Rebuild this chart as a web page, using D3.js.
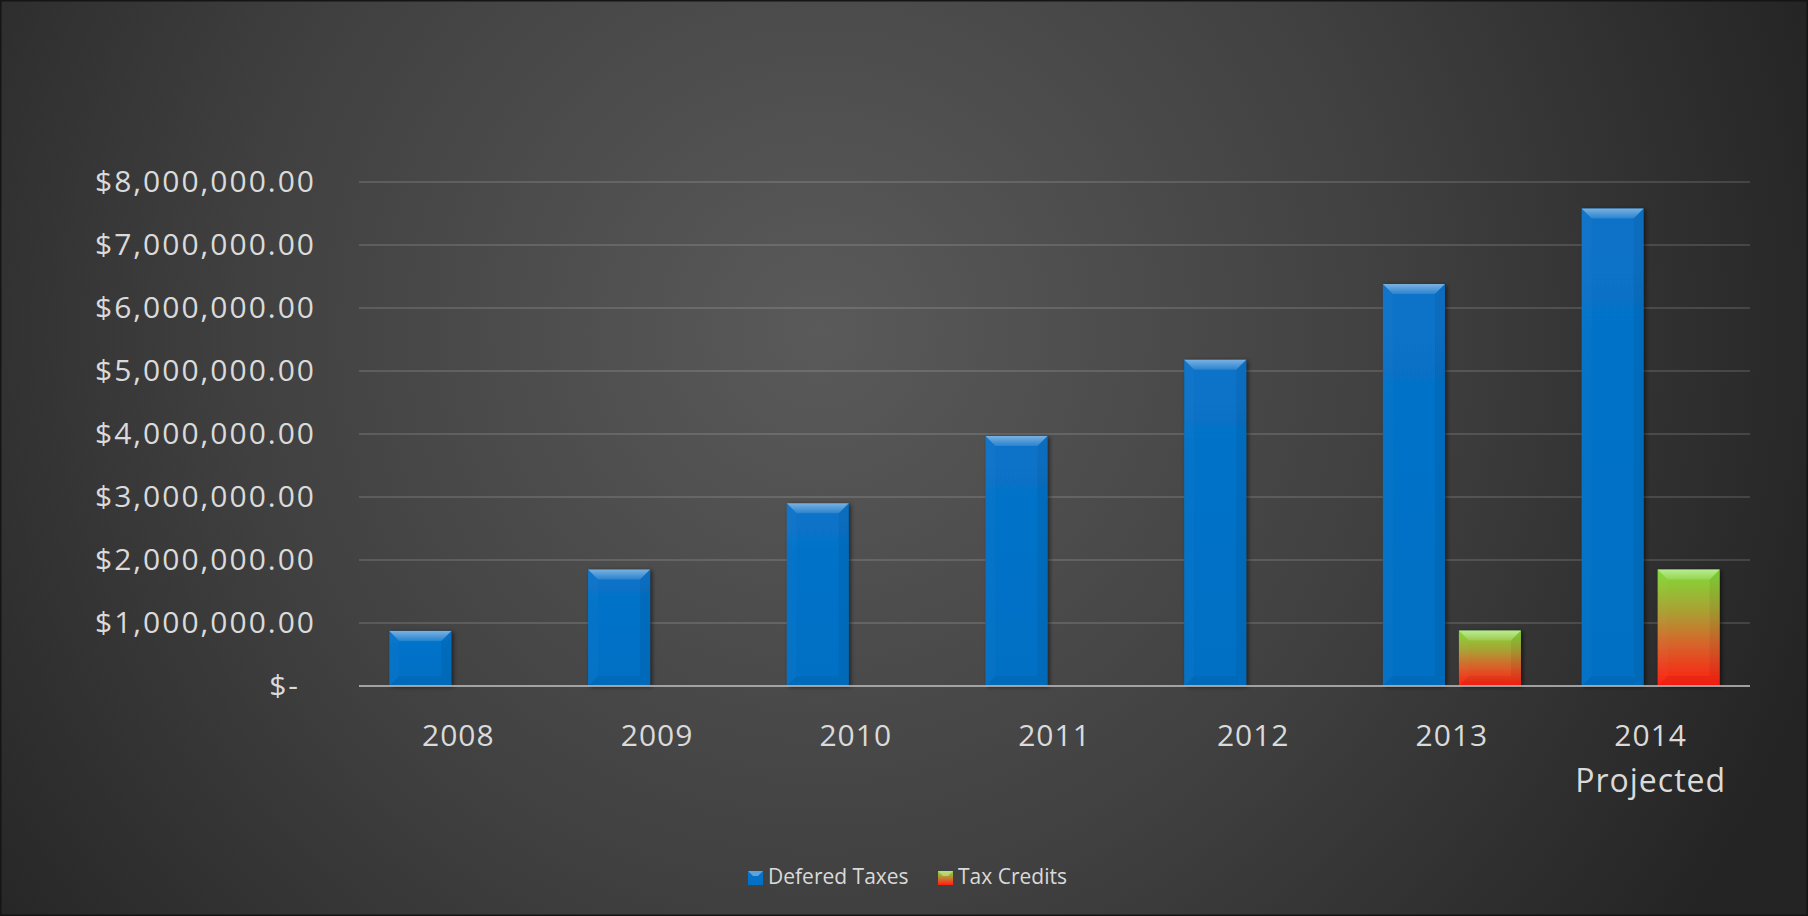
<!DOCTYPE html>
<html>
<head>
  <meta charset="utf-8">
  <title>Defered Taxes / Tax Credits</title>
  <script src="https://d3js.org/d3.v7.min.js"></script>
  <style>
    html, body { margin: 0; padding: 0; background: #2a2a2a; }
    svg { display: block; }
    text { font-family: "Open Sans", "DejaVu Sans", sans-serif; fill: #dadada; }
  </style>
</head>
<body>
  <script>
    // data
    const years = ["2008", "2009", "2010", "2011", "2012", "2013", "2014\nProjected"];
    const seriesNames = ["Defered Taxes", "Tax Credits"];
    const deferedTaxes = [875000, 1850000, 2900000, 3970000, 5180000, 6380000, 7580000];
    const taxCredits = [0, 0, 0, 0, 0, 880000, 1850000];
    const yTicks = [0, 1000000, 2000000, 3000000, 4000000, 5000000, 6000000, 7000000, 8000000];

    const W = 1808, H = 916;
    const margin = {top: 182, right: 58, bottom: 230, left: 359};

    const svg = d3.select("body").append("svg")
        .attr("width", W)
        .attr("height", H);

    const defs = svg.append("defs");

    // background: soft radial glow
    const bg = defs.append("radialGradient").attr("id", "bg")
        .attr("gradientUnits", "userSpaceOnUse")
        .attr("cx", 820).attr("cy", 330).attr("r", 1050);
    bg.append("stop").attr("offset", "0%").attr("stop-color", "#5a5a5a");
    bg.append("stop").attr("offset", "55%").attr("stop-color", "#404040");
    bg.append("stop").attr("offset", "100%").attr("stop-color", "#242424");

    const blue = defs.append("linearGradient").attr("id", "blueFill")
        .attr("x1", 0).attr("y1", 0).attr("x2", 0).attr("y2", 1);
    blue.append("stop").attr("offset", "0%").attr("stop-color", "#0873c9");
    blue.append("stop").attr("offset", "100%").attr("stop-color", "#0070c4");

    const rg = defs.append("linearGradient").attr("id", "creditFill")
        .attr("x1", 0).attr("y1", 0).attr("x2", 0).attr("y2", 1);
    rg.append("stop").attr("offset", "0%").attr("stop-color", "#80dc38");
    rg.append("stop").attr("offset", "35%").attr("stop-color", "#a9a233");
    rg.append("stop").attr("offset", "65%").attr("stop-color", "#d8622a");
    rg.append("stop").attr("offset", "100%").attr("stop-color", "#ff1c10");

    const topShine = defs.append("linearGradient").attr("id", "topShine")
        .attr("x1", 0).attr("y1", 0).attr("x2", 0).attr("y2", 1);
    topShine.append("stop").attr("offset", "0%").attr("stop-color", "#ffffff").attr("stop-opacity", 0.45);
    topShine.append("stop").attr("offset", "100%").attr("stop-color", "#ffffff").attr("stop-opacity", 0.12);

    const shadow = defs.append("filter").attr("id", "shadow")
        .attr("x", "-20%").attr("y", "-10%").attr("width", "150%").attr("height", "130%");
    shadow.append("feDropShadow").attr("dx", 2).attr("dy", 1)
        .attr("stdDeviation", 2).attr("flood-color", "#000").attr("flood-opacity", 0.55);

    svg.append("rect").attr("width", W).attr("height", H).attr("fill", "url(#bg)");
    svg.append("rect").attr("x", 0.5).attr("y", 0.5).attr("width", W - 1).attr("height", H - 1)
        .attr("fill", "none").attr("stroke", "#151515").attr("stroke-width", 2);

    const x0 = d3.scaleBand()
        .domain(years)
        .range([margin.left, W - margin.right]);

    const x1 = d3.scaleBand()
        .domain(seriesNames)
        .range([0, x0.bandwidth()])
        .paddingInner(0.184)
        .paddingOuter(0.399);

    const y = d3.scaleLinear()
        .domain([0, 8000000])
        .range([H - margin.bottom, margin.top]);

    // gridlines
    svg.append("g")
      .selectAll("line")
      .data(yTicks.filter(d => d > 0))
      .join("line")
        .attr("x1", margin.left).attr("x2", W - margin.right)
        .attr("y1", d => y(d)).attr("y2", d => y(d))
        .attr("stroke", "#ffffff").attr("stroke-opacity", 0.13).attr("stroke-width", 2);

    // y axis labels (accounting format)
    const fmt = d3.format(",.2f");
    svg.append("g")
      .selectAll("text")
      .data(yTicks)
      .join("text")
        .attr("x", d => d === 0 ? 300 : 316)
        .attr("y", d => y(d) + 10)
        .attr("text-anchor", "end")
        .style("font-size", "30px")
        .style("letter-spacing", "2px")
        .text(d => d === 0 ? "$-" : "$" + fmt(d));

    // bars
    const rows = years.map((yr, i) => ({
      year: yr,
      values: [
        {key: "Defered Taxes", value: deferedTaxes[i], fill: "url(#blueFill)"},
        {key: "Tax Credits", value: taxCredits[i], fill: "url(#creditFill)"}
      ]
    }));

    const groups = svg.append("g")
      .selectAll("g")
      .data(rows)
      .join("g")
        .attr("transform", d => `translate(${x0(d.year)},0)`);

    const bars = groups.selectAll("g.bar")
      .data(d => d.values.filter(v => v.value > 0))
      .join("g")
        .attr("class", "bar");

    bars.append("rect")
        .attr("x", d => x1(d.key))
        .attr("y", d => y(d.value))
        .attr("width", x1.bandwidth())
        .attr("height", d => y(0) - y(d.value))
        .attr("fill", d => d.fill)
        .attr("filter", "url(#shadow)");

    // bevel highlights drawn from the same scales
    const bev = 10;
    function bevel(d, side) {
      const l = x1(d.key), r = l + x1.bandwidth(), t = y(d.value), b = y(0);
      const k = Math.min(bev, (b - t) / 2);
      if (side === "top") return `M${l},${t}L${r},${t}L${r - k},${t + k}L${l + k},${t + k}Z`;
      if (side === "left") return `M${l},${t}L${l + k},${t + k}L${l + k},${b - k}L${l},${b}Z`;
      if (side === "right") return `M${r},${t}L${r - k},${t + k}L${r - k},${b - k}L${r},${b}Z`;
      return `M${l},${b}L${l + k},${b - k}L${r - k},${b - k}L${r},${b}Z`;
    }
    bars.append("path").attr("d", d => bevel(d, "top")).attr("fill", "url(#topShine)");
    bars.append("path").attr("d", d => bevel(d, "left")).attr("fill", "#ffffff").attr("fill-opacity", 0.02);
    bars.append("path").attr("d", d => bevel(d, "right")).attr("fill", "#000000").attr("fill-opacity", 0.06);
    bars.append("path").attr("d", d => bevel(d, "bottom")).attr("fill", "#000000").attr("fill-opacity", 0.05);

    // base line
    svg.append("line")
        .attr("x1", margin.left).attr("x2", W - margin.right)
        .attr("y1", y(0)).attr("y2", y(0))
        .attr("stroke", "#b4b4b4").attr("stroke-opacity", 0.85).attr("stroke-width", 2);

    // category labels
    const cat = svg.append("g")
      .selectAll("text")
      .data(years)
      .join("text")
        .attr("x", d => x0(d) + x0.bandwidth() / 2)
        .attr("y", 746)
        .attr("text-anchor", "middle")
        .style("font-size", "30px")
        .style("letter-spacing", "1px");
    cat.selectAll("tspan")
      .data(d => d.split("\n").map(s => ({s, x: x0(d) + x0.bandwidth() / 2})))
      .join("tspan")
        .attr("x", d => d.x)
        .attr("dy", (d, i) => i === 0 ? 0 : 46)
        .style("font-size", (d, i) => i === 0 ? null : "32px")
        .text(d => d.s);

    // legend
    const legendX = [748, 938];
    const legendFill = ["url(#blueFill)", "url(#creditFill)"];
    const leg = svg.append("g")
      .selectAll("g")
      .data(seriesNames)
      .join("g")
        .attr("transform", (d, i) => `translate(${legendX[i]},871)`);
    leg.append("rect")
        .attr("width", 15).attr("height", 14)
        .attr("fill", (d, i) => legendFill[i]);
    leg.append("path")
        .attr("d", "M0,0L15,0L10,5L5,5Z")
        .attr("fill", "#ffffff").attr("fill-opacity", 0.35);
    leg.append("text")
        .attr("x", 20).attr("y", 13)
        .style("font-size", "21px")
        .text(d => d);
  </script>
</body>
</html>
